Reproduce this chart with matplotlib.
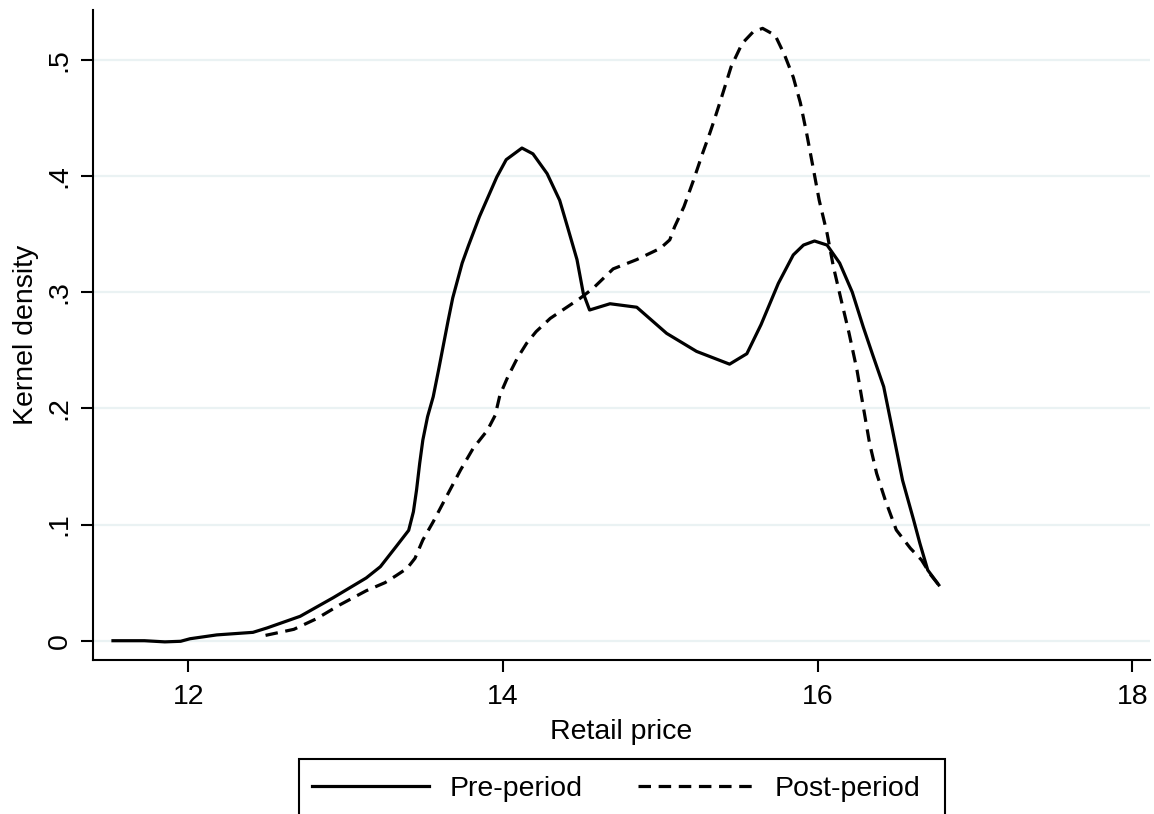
import matplotlib
matplotlib.use("Agg")
import matplotlib.pyplot as plt
from matplotlib.lines import Line2D
from matplotlib.patches import Rectangle

plt.rcParams['font.family'] = ['Liberation Sans', 'DejaVu Sans']
plt.rcParams['lines.scale_dashes'] = False

# ---- data ----
pre_x = [11.52, 11.72, 11.85, 11.95, 12.01, 12.18, 12.41, 12.50, 12.71, 12.92,
         13.13, 13.22, 13.32, 13.40, 13.43, 13.45, 13.47, 13.49, 13.52, 13.556,
         13.59, 13.62, 13.65, 13.68, 13.74, 13.78, 13.85, 13.96, 14.02, 14.12,
         14.19, 14.28, 14.36, 14.41, 14.47, 14.51, 14.55, 14.68, 14.85, 15.04,
         15.23, 15.44, 15.55, 15.64, 15.75, 15.845, 15.91, 15.98, 16.06, 16.14,
         16.22, 16.29, 16.35, 16.42, 16.48, 16.54, 16.61, 16.65, 16.70, 16.77]
pre_y = [0.0, 0.0, -0.001, -0.0005, 0.0017, 0.005, 0.0072, 0.011, 0.021, 0.037,
         0.054, 0.0637, 0.081, 0.095, 0.111, 0.1297, 0.1527, 0.1727, 0.1928, 0.210,
         0.233, 0.254, 0.275, 0.295, 0.325, 0.340, 0.365, 0.399, 0.414, 0.424,
         0.419, 0.402, 0.379, 0.356, 0.328, 0.299, 0.2846, 0.290, 0.287, 0.2645,
         0.249, 0.238, 0.247, 0.272, 0.3075, 0.332, 0.3405, 0.344, 0.3405, 0.325,
         0.300, 0.270, 0.246, 0.2186, 0.1785, 0.138, 0.1040, 0.0838, 0.0608, 0.048]

post_x = [12.49, 12.67, 12.815, 12.96, 13.13, 13.25, 13.32, 13.39, 13.44, 13.49,
          13.556, 13.64, 13.73, 13.81, 13.90, 13.95, 13.98, 14.03, 14.09, 14.15,
          14.21, 14.30, 14.49, 14.57, 14.70, 14.85, 15.00, 15.06, 15.09, 15.15,
          15.21, 15.27, 15.315, 15.34, 15.39, 15.45, 15.52, 15.59, 15.65, 15.73,
          15.79, 15.845, 15.89, 15.93, 15.97, 16.01, 16.06, 16.10, 16.15, 16.20,
          16.25, 16.29, 16.33, 16.375, 16.43, 16.50, 16.59, 16.66, 16.72, 16.77]
post_y = [0.0046, 0.0098, 0.019, 0.0307, 0.043, 0.0500, 0.056, 0.0623, 0.0709, 0.0867,
          0.1024, 0.124, 0.147, 0.1656, 0.181, 0.194, 0.2114, 0.227, 0.243, 0.256,
          0.266, 0.2774, 0.2947, 0.3030, 0.3200, 0.3280, 0.3377, 0.345, 0.356, 0.3735,
          0.396, 0.420, 0.437, 0.447, 0.468, 0.494, 0.514, 0.524, 0.527, 0.521,
          0.504, 0.485, 0.463, 0.4367, 0.408, 0.379, 0.3506, 0.322, 0.293, 0.2645,
          0.233, 0.2014, 0.170, 0.144, 0.121, 0.0953, 0.0795, 0.0695, 0.0565, 0.048]

x_ticks = [12, 14, 16, 18]
y_ticks = [0, 0.1, 0.2, 0.3, 0.4, 0.5]
y_tick_labels = ['0', '.1', '.2', '.3', '.4', '.5']
series_labels = ['Pre-period', 'Post-period']
x_label = 'Retail price'
y_label = 'Kernel density'

# ---- figure ----
W, H = 1154, 814
fig = plt.figure(figsize=(W / 100, H / 100), dpi=100)
left, right, bottom, top = 93 / W, 1150 / W, 1 - 660 / H, 1 - 10 / H
ax = fig.add_axes([left, bottom, right - left, top - bottom])

fs = 20.5
lw = 2.3
dash = (9.0, 5.5)

ax.plot(pre_x, pre_y, color='black', lw=lw, solid_joinstyle='round',
        label=series_labels[0])
ax.plot(post_x, post_y, color='black', lw=lw, dashes=dash,
        label=series_labels[1])

ax.set_xlim(11.393, 18.113)
ax.set_ylim(-0.0166, 0.5428)
ax.set_xticks(x_ticks)
ax.set_xticklabels([str(t) for t in x_ticks], fontsize=fs)
ax.set_yticks(y_ticks)
ax.set_yticklabels(y_tick_labels, fontsize=fs, rotation=90, va='center')

ax.grid(axis='y', color='#eaf2f3', lw=1.6)
ax.set_axisbelow(True)
for s in ['top', 'right']:
    ax.spines[s].set_visible(False)
for s in ['left', 'bottom']:
    ax.spines[s].set_linewidth(1.5)
ax.tick_params(axis='both', length=8.5, width=1.5, color='black', direction='out')
ax.tick_params(axis='x', pad=9)
ax.tick_params(axis='y', pad=6)

ax.set_xlabel(x_label, fontsize=fs, labelpad=6)
ax.set_ylabel(y_label, fontsize=fs, labelpad=6)

# legend frame (box runs off the bottom edge as in the reference)
fig.add_artist(Rectangle((299 / W, 1 - 822 / H), (945 - 299) / W, (822 - 759) / H,
                         transform=fig.transFigure, fill=False,
                         edgecolor='black', lw=1.5))
handles = [Line2D([], [], color='black', lw=lw),
           Line2D([], [], color='black', lw=lw, dashes=dash)]
leg = fig.legend(handles, series_labels, loc='center left',
                 bbox_to_anchor=(312 / W, 1 - 789 / H), ncol=2, fontsize=fs,
                 frameon=False, handlelength=4.1, handletextpad=0.72,
                 columnspacing=1.95, borderpad=0.0, borderaxespad=0.0)

fig.savefig('out.png', dpi=100)
